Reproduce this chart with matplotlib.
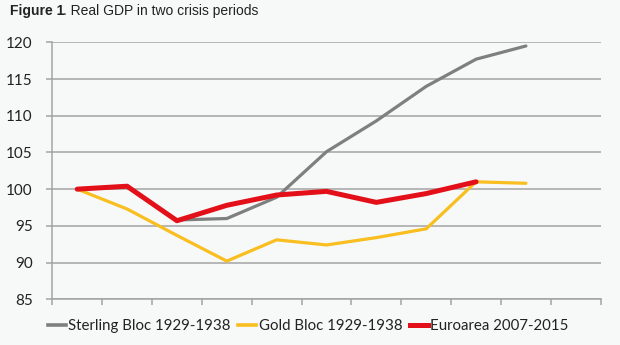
import matplotlib.pyplot as plt

# values, index = year since start of crisis
sterling = [100, 100.3, 95.8, 96.0, 98.9, 105.1, 109.3, 114.0, 117.7, 119.5]
gold = [100, 97.3, 93.7, 90.2, 93.1, 92.4, 93.4, 94.6, 101.0, 100.8]
euro = [100, 100.4, 95.7, 97.8, 99.2, 99.7, 98.2, 99.4, 101.0]
labels = ["Sterling Bloc 1929-1938", "Gold Bloc 1929-1938", "Euroarea 2007-2015"]
yticks = [85, 90, 95, 100, 105, 110, 115, 120]

bg = "#f6f9f8"
grid = "#a3a3a3"

my_dpi = 100
fig = plt.figure(figsize=(620 / my_dpi, 345 / my_dpi), dpi=my_dpi, facecolor=bg)
ax = fig.add_axes([52.3 / 620, 1 - 299.3 / 345, 548.4 / 620, 257 / 345], facecolor=bg)

ax.plot(range(len(sterling)), sterling, color="#7f7f7f", lw=2.3, solid_capstyle="round")
ax.plot(range(len(gold)), gold, color="#f9be1f", lw=2.3, solid_capstyle="round")
ax.plot(range(len(euro)), euro, color="#e31019", lw=3.6, solid_capstyle="round")

ax.set_xlim(-0.5, 10.5)
ax.set_ylim(85, 120)
ax.set_yticks(yticks)
ax.set_xticks([i - 0.5 for i in range(12)])
ax.set_xticklabels([])
ax.yaxis.grid(True, color=grid, lw=1.1)
ax.set_axisbelow(True)
for s in ["top", "right"]:
    ax.spines[s].set_visible(False)
for s in ["left", "bottom"]:
    ax.spines[s].set_color(grid)
    ax.spines[s].set_linewidth(1.1)
ax.tick_params(axis="both", color=grid, length=4, width=1.1)
ax.tick_params(axis="y", labelsize=11, labelcolor="#222222", pad=10)
for t in ax.get_yticklabels():
    t.set_fontfamily("Lato")

handles = [plt.Line2D([], [], color=c, lw=w) for c, w in
           [("#7f7f7f", 2.6), ("#f9be1f", 2.6), ("#e31019", 3.6)]]
leg = fig.legend(handles, labels, loc="center", bbox_to_anchor=(0.497, 0.055), ncol=3,
                 frameon=False, handlelength=1.2, handletextpad=0.15, columnspacing=0.5,
                 prop={"family": "Lato", "size": 10.8})
for t in leg.get_texts():
    t.set_color("#222222")

fig.text(10 / 620, 1 - 11 / 345, "Figure 1", fontweight="bold", fontsize=10,
         family="Liberation Sans", va="center", ha="left", color="#222222")
fig.text(63 / 620, 1 - 11 / 345, ". Real GDP in two crisis periods", fontsize=10,
         family="Liberation Sans", va="center", ha="left", color="#222222")

fig.savefig("out.png", dpi=my_dpi, facecolor=bg)
